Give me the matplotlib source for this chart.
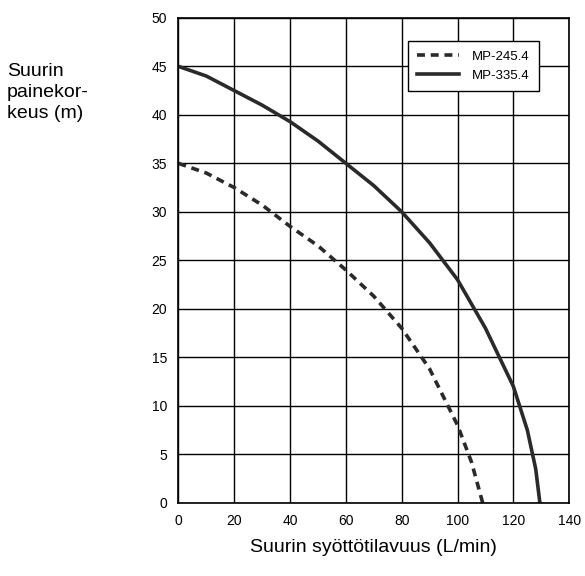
import matplotlib
matplotlib.use("Agg")
import matplotlib.pyplot as plt

plt.rcParams['font.family'] = ['Liberation Sans', 'DejaVu Sans']

# flow (L/min) vs head (m)
flow_245 = [0, 10, 20, 30, 40, 50, 60, 70, 80, 90, 100, 105, 109]
head_245 = [35, 34, 32.5, 30.7, 28.5, 26.5, 24, 21.3, 18, 13.8, 8, 4.2, 0]
flow_335 = [0, 10, 20, 30, 40, 50, 60, 70, 80, 90, 100, 110, 120, 125, 128, 129.5]
head_335 = [45, 44, 42.5, 41, 39.3, 37.3, 35, 32.7, 30, 26.8, 23, 18, 12, 7.5, 3.5, 0]

fig = plt.figure(figsize=(5.85, 5.76), dpi=100)
ax = fig.add_axes([0.305, 0.127, 0.668, 0.842])

ax.plot(flow_245, head_245, color="#2a2a2a", lw=2.6, ls=(0, (2.2, 1.6)), label="MP-245.4")
ax.plot(flow_335, head_335, color="#2a2a2a", lw=2.6, label="MP-335.4")

ax.set_xlim(0, 140)
ax.set_ylim(0, 50)
ax.set_xticks(range(0, 141, 20))
ax.set_yticks(range(0, 51, 5))
ax.grid(True, color="black", lw=1)
ax.tick_params(length=0, labelsize=10, pad=8)
for s in ax.spines.values():
    s.set_linewidth(1.2)

ax.set_xlabel("Suurin syöttötilavuus (L/min)", fontsize=14, labelpad=8)
fig.text(0.012, 0.89, "Suurin\npainekor-\nkeus (m)", fontsize=14, va="top", ha="left", linespacing=1.3)

leg = ax.legend(loc="upper right", bbox_to_anchor=(0.94, 0.965), fontsize=9.5,
                fancybox=False, edgecolor="black", framealpha=1, handlelength=3.2,
                borderpad=0.7, handletextpad=1.0)
leg.get_frame().set_linewidth(1)

fig.savefig("out.png", dpi=100)
